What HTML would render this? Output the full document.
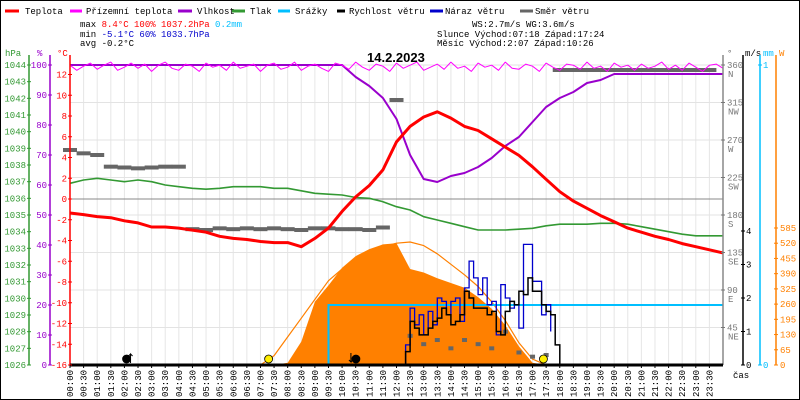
<!DOCTYPE html>
<html><head><meta charset="utf-8"><style>
html,body{margin:0;padding:0;background:#fff}
svg{display:block}
text{font-family:"Liberation Mono",monospace;font-size:9px}
</style></head><body>
<svg id="chart" width="800" height="400" xmlns="http://www.w3.org/2000/svg">
<rect x="0.5" y="0.5" width="799" height="399" fill="#fff" stroke="#000"/>
<g>
<line x1="5" y1="11" x2="19" y2="11" stroke="#f00" stroke-width="3"/><text x="25" y="14">Teplota</text>
<line x1="70" y1="11" x2="82" y2="11" stroke="#f0f" stroke-width="3"/><text x="86" y="14">Přízemní teplota</text>
<line x1="178" y1="11" x2="192" y2="11" stroke="#90c" stroke-width="3"/><text x="197" y="14">Vlhkost</text>
<line x1="232" y1="11" x2="245" y2="11" stroke="#393" stroke-width="3"/><text x="250" y="14">Tlak</text>
<line x1="278" y1="11" x2="290" y2="11" stroke="#00bfff" stroke-width="3"/><text x="295" y="14">Srážky</text>
<line x1="337" y1="11" x2="345" y2="11" stroke="#000" stroke-width="3"/><text x="349" y="14">Rychlost větru</text>
<line x1="430" y1="11" x2="443" y2="11" stroke="#00c" stroke-width="3"/><text x="445" y="14">Náraz větru</text>
<line x1="520" y1="11" x2="533" y2="11" stroke="#666" stroke-width="3"/><text x="535" y="14">Směr větru</text>
</g>
<g>
<text x="80" y="27">max <tspan fill="#f00"> 8.4°C 100%  1037.2hPa</tspan><tspan fill="#00bfff">   0.2mm</tspan></text>
<text x="80" y="37">min <tspan fill="#00c">-5.1°C  60%  1033.7hPa</tspan></text>
<text x="80" y="46">avg -0.2°C</text>
<text x="472" y="27">WS:2.7m/s     WG:3.6m/s</text>
<text x="437" y="37">Slunce Východ:07:18 Západ:17:24</text>
<text x="437" y="46">Měsíc  Východ:2:07  Západ:10:26</text>
</g>
<text x="5" y="56" fill="#393">hPa</text>
<text x="37" y="56" fill="#90c">%</text>
<text x="57" y="56" fill="#f00">°C</text>
<text x="727" y="56" fill="#666">°</text>
<text x="745" y="56" fill="#000">m/s</text>
<text x="763" y="56" fill="#00bfff">mm</text>
<text x="779" y="56" fill="#ff8000">W</text>
<text x="733" y="378">čas</text>
<g id="plot"></g>
<text x="367" y="62" style="font-family:'Liberation Sans',sans-serif;font-size:13px;font-weight:bold">14.2.2023</text>
</svg>
<script>
const temp=[-1.35,-1.5,-1.7,-1.8,-2.1,-2.3,-2.7,-2.7,-2.8,-3.0,-3.2,-3.6,-3.8,-3.9,-4.1,-4.2,-4.2,-4.6,-3.8,-2.8,-1.2,0.2,1.3,2.8,5.5,7.0,7.9,8.4,7.8,7.0,6.6,5.8,5.0,4.2,3.1,1.9,0.7,-0.2,-0.9,-1.6,-2.2,-2.8,-3.2,-3.6,-3.9,-4.3,-4.6,-4.9,-5.2];
const humidity=[100,100,100,100,100,100,100,100,100,100,100,100,100,100,100,100,100,100,100,100,100,96,93,89,82,70,62,61,63,64,66,69,73,76,81,86,89,91,94,95,97,97,97,97,97,97,97,97,97];
const pressure=[1036.9,1037.1,1037.2,1037.1,1037.0,1037.1,1037.0,1036.8,1036.7,1036.6,1036.55,1036.6,1036.7,1036.7,1036.7,1036.6,1036.6,1036.45,1036.3,1036.25,1036.2,1036.05,1036.0,1035.8,1035.5,1035.3,1034.9,1034.7,1034.5,1034.3,1034.1,1034.1,1034.1,1034.15,1034.2,1034.35,1034.45,1034.45,1034.45,1034.5,1034.5,1034.45,1034.3,1034.15,1034.0,1033.85,1033.75,1033.75,1033.75];
const rain=[0,0,0,0,0,0,0,0,0,0,0,0,0,0,0,0,0,0,0,0.2,0.2,0.2,0.2,0.2,0.2,0.2,0.2,0.2,0.2,0.2,0.2,0.2,0.2,0.2,0.2,0.2,0.2,0.2,0.2,0.2,0.2,0.2,0.2,0.2,0.2,0.2,0.2,0.2,0.2];
const direction=[258,254,252,238,237,236,237,238,238,163,162,164,163,164,163,164,163,162,164,164,163,163,162,165,318,35,25,30,20,30,25,20,40,15,10,12,354,354,354,354,354,354,354,354,354,354,354,354,null];
const radiation=[0,0,0,0,0,0,0,0,0,0,0,0,0,0,0,0,10,100,270,340,415,465,495,515,520,410,395,370,350,330,290,240,170,80,10,0,0,0,0,0,0,0,0,0,0,0,0,0,0];
const radTheory=[0,0,0,0,0,0,0,0,0,0,0,0,0,0,0,40,120,200,280,360,410,445,480,505,520,525,510,475,430,385,335,270,190,95,25,0,0,0,0,0,0,0,0,0,0,0,0,0,0];
const windSpeed=[0,0,0.4,1.3,1.1,0.9,0.9,1.1,1.3,1.4,1.7,1.5,1.2,1.3,1.5,2.2,2.0,1.7,1.7,1.7,1.5,1.6,1.0,0.9,1.6,1.9,1.8,2.2,2.1,2.6,2.2,2.2,1.8,1.6,1.5,0.6,0];
const windGust=[0,0,0.6,1.7,1.2,1.5,0.9,1.6,1.2,2.0,1.9,1.5,1.9,2.0,1.3,2.3,3.1,2.6,2.1,2.6,1.8,1.9,0.9,2.4,2.0,1.7,1.8,1.1,3.6,3.6,2.5,2.5,1.5,1.8,1.0];
const groundTemp=[12.9,12.4,12.8,13.1,12.5,12.9,13.2,12.4,12.7,13.1,12.6,13.0,12.3,12.9,13.2,12.6,12.4,13.0,12.8,12.3,13.1,12.7,12.9,12.4,13.2,12.6,12.8,13.0,12.3,12.9,13.1,12.5,12.7,13.2,12.4,12.8,13.0,12.6,12.3,13.1,12.9,12.5,13.2,12.7,12.4,13.0,12.8,12.3,13.1,12.6,12.9,13.2,12.4,12.7,13.0,12.5,13.2,12.6,12.8,12.3,13.1,12.7,12.9,12.4,13.2,12.6,12.5,13.0,12.8,12.3,13.1,12.7,12.4,13.0,12.9,12.5,13.2,12.6,12.8,12.3,13.1,12.7,12.9,12.4,13.0,12.6,12.8,13.2,12.5,12.9,12.4,13.1,12.7,12.3,12.9,13.0,12.6];
const timeLabels=[];
for(let h=0;h<24;h++){timeLabels.push((h<10?'0':'')+h+':00');timeLabels.push((h<10?'0':'')+h+':30');}
const pressTicks=[1026,1027,1028,1029,1030,1031,1032,1033,1034,1035,1036,1037,1038,1039,1040,1041,1042,1043,1044];
const humTicks=[0,10,20,30,40,50,60,70,80,90,100];
const tempTicks=[-16,-14,-12,-10,-8,-6,-4,-2,0,2,4,6,8,10,12];
const dirTicks=[45,90,135,180,225,270,315,360];
const dirNames=['NE','E','SE','S','SW','W','NW','N'];
const speedTicks=[0,1,2,3,4];
const radTicks=[0,65,130,195,260,325,390,455,520,585];

const L=70,R=723,B=365,T=65;
const xH=i=>L+i*(R-L)/48;
const xTen=k=>L+k*(R-L)/144;
const yT=v=>199-v*10.375;
const yH=v=>B-v*3;
const yP=v=>B-(v-1026)*300/18;
const yD=v=>B-v*300/360;
const yS=v=>B-v*33.5;
const yR=v=>B-v*300;
const yW=v=>B-v*0.2342;
const NS='http://www.w3.org/2000/svg';
const plot=document.getElementById('plot');
function mk(tag,attrs,parent){const e=document.createElementNS(NS,tag);for(const k in attrs)e.setAttribute(k,attrs[k]);(parent||plot).appendChild(e);return e;}
function line(xs,ys,color,w){let d='';xs.forEach((x,i)=>{d+=(i?'L':'M')+x.toFixed(1)+','+ys[i].toFixed(1);});const e=mk('path',{d:d,fill:'none',stroke:color,'stroke-width':w,'stroke-linejoin':'round'});return e;}
function stepPath(xs,ys){let d='M'+xs[0]+','+ys[0];for(let i=1;i<xs.length;i++){d+='H'+xs[i].toFixed(1)+'V'+ys[i].toFixed(1);}return d;}

for(let i=0;i<=48;i++){const g=mk('line',{x1:xH(i),x2:xH(i),y1:T,y2:B,stroke:'#e6e6e6'});

}
for(const d of dirTicks){const g=mk('line',{x1:L,x2:R,y1:yD(d),y2:yD(d),stroke:'#e3e3e3'});

}
const z=mk('line',{x1:L,x2:R,y1:yT(0),y2:yT(0),stroke:'#888'});



{let d='M'+xH(0)+','+B;radiation.forEach((v,i)=>{d+='L'+xH(i).toFixed(1)+','+yW(v).toFixed(1);});d+='L'+xH(48)+','+B+'Z';
const e=mk('path',{d:d,fill:'#ff8000'});

}
{const xs=[],ys=[];radTheory.forEach((v,i)=>{if(i>=14&&i<=35){xs.push(xH(i));ys.push(yW(v));}});
const e=line(xs,ys,'#ff8000',1.2);

}

direction.forEach((v,i)=>{if(v===null)return;const w=(i>=25&&i<=35)?5:14;const r=mk('rect',{x:xH(i)-w/2,y:yD(v)-2,width:w,height:4,fill:'#666'});

});

{const e=line(pressure.map((v,i)=>xH(i)),pressure.map(yP),'#339933',1.6);

}
{const e=line(humidity.map((v,i)=>xH(i)),humidity.map(yH),'#9900cc',2);

}
{const xs=groundTemp.map((v,i)=>L+i*(R-L)/(groundTemp.length-1));const e=line(xs,groundTemp.map(yT),'#ff00ff',1);

}
{const xs=[],ys=[];rain.forEach((v,i)=>{xs.push(xH(i));ys.push(yR(v));});
const e=mk('path',{d:stepPath(xs,ys),fill:'none',stroke:'#00bfff','stroke-width':2});

}
{const xs=windGust.map((v,k)=>xTen(72+k));const e=mk('path',{d:stepPath(xs,windGust.map(yS)),fill:'none',stroke:'#0000cc','stroke-width':1.3});

}
{const xs=windSpeed.map((v,k)=>xTen(72+k));const e=mk('path',{d:stepPath(xs,windSpeed.map(yS)),fill:'none',stroke:'#000','stroke-width':1.5});

}
{const e=line(temp.map((v,i)=>xH(i)),temp.map(yT),'#ff0000',3);

}

function axisLine(x,color,name){const e=mk('line',{x1:x,x2:x,y1:T-10,y2:B,stroke:color,'stroke-width':1.5});

}
axisLine(29,'#339933','pressure-axis');
axisLine(50,'#9900cc','humidity-axis');
axisLine(70,'#ff0000','temperature-axis');
axisLine(723,'#888','direction-axis');
axisLine(743,'#000','speed-axis');
axisLine(760,'#00bfff','rain-axis');
axisLine(776,'#ff8000','radiation-axis');
{const e=mk('line',{x1:L,x2:R,y1:B,y2:B,stroke:'#000','stroke-width':3});

}
function tick(x,y,label,color,anchor,tx,name){mk('line',{x1:x-2,x2:x+2,y1:y,y2:y,stroke:color});
const t=mk('text',{x:tx,y:y+3,fill:color,'text-anchor':anchor});t.textContent=label;

}
pressTicks.forEach(v=>tick(29,yP(v),v,'#339933','end',26,'pressure-tick-label'));
humTicks.forEach(v=>tick(50,yH(v),v,'#9900cc','end',47,'humidity-tick-label'));
tempTicks.forEach(v=>tick(70,yT(v),v,'#ff0000','end',67,'temperature-tick-label'));
dirTicks.forEach((v,i)=>{tick(723,yD(v),v,'#777','start',727,'direction-tick-label');
const t=mk('text',{x:728,y:yD(v)+12,fill:'#777'});t.textContent=dirNames[i];

});
speedTicks.forEach(v=>tick(743,yS(v),v,'#000','start',746,'speed-tick-label'));
tick(760,yR(0),'0','#00bfff','start',763,'rain-tick-label');
tick(760,yR(1),'1','#00bfff','start',763,'rain-tick-label');
radTicks.forEach(v=>tick(776,yW(v),v,'#ff8000','start',780,'radiation-tick-label'));
timeLabels.forEach((s,i)=>{const x=xH(i);mk('line',{x1:x,x2:x,y1:B,y2:B+3,stroke:'#000'});
const t=mk('text',{x:0,y:0,transform:'translate('+(x+3)+',397) rotate(-90)'});t.textContent=s;

});

function circ(x,fill,name){const c=mk('circle',{cx:x,cy:359,r:4,fill:fill,stroke:'#000','stroke-width':0.8});

}
circ(xH(14.6),'#ffee00','sunrise-marker');
circ(xH(34.8),'#ffee00','sunset-marker');
circ(xH(4.23)-1,'#000','moonrise-marker');
circ(xH(20.87)+2,'#000','moonset-marker');
{const a=mk('path',{d:'M'+(xH(4.23)+3)+',363V354l-2,2M'+(xH(4.23)+3)+',354l2,2',stroke:'#000',fill:'none'});

}
{const a=mk('path',{d:'M'+(xH(20.87)-3)+',353V362l-2,-2M'+(xH(20.87)-3)+',362l2,-2',stroke:'#000',fill:'none'});

}
</script>
</body></html>
